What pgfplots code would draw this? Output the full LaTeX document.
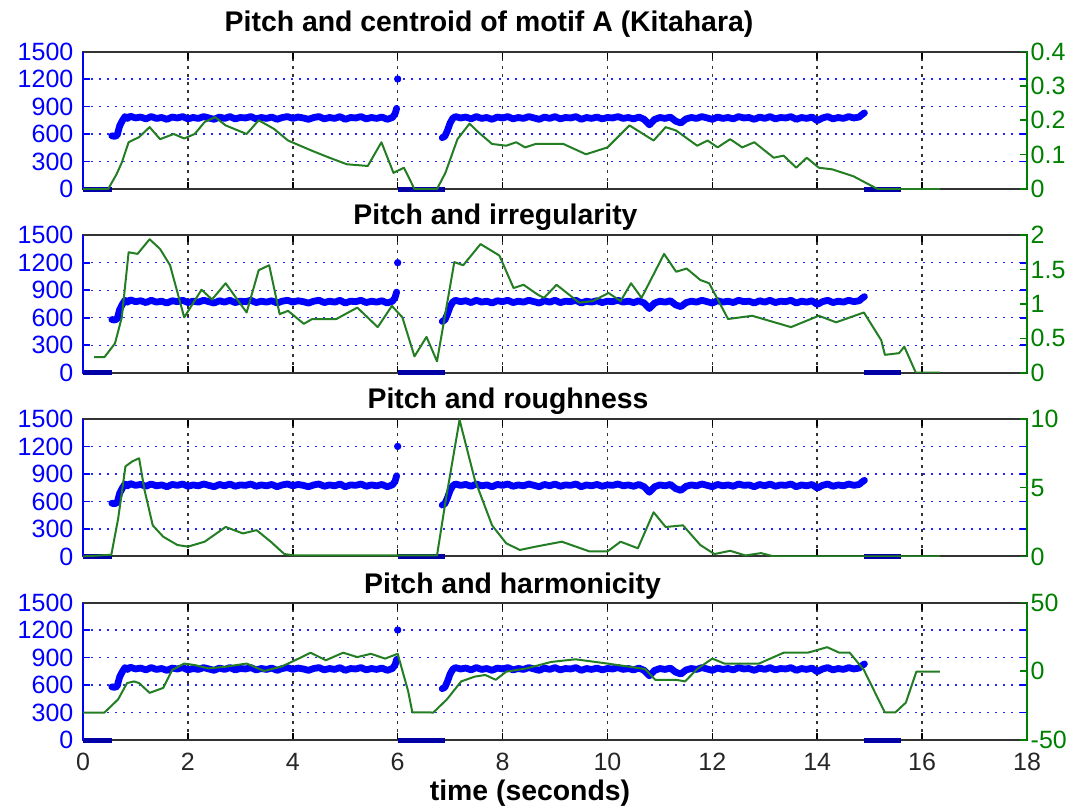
\documentclass[border=0pt]{standalone}
\usepackage{pgfplots}
\pgfplotsset{compat=1.18}
\usepackage{pgfplotstable}
\usepackage{fontspec}
\setmainfont{Liberation Sans}
\definecolor{mgreen}{RGB}{0,128,0}
\definecolor{cgreen}{RGB}{35,125,35}
\definecolor{mblue}{RGB}{0,0,255}
\newcommand\tickfont{\fontsize{12.5}{14}\selectfont}
\newcommand\titlefont{\bfseries\fontsize{14.2}{16}\selectfont}

\pgfplotstableread{
t p
0.55 580
0.60 575
0.65 585
0.70 690
0.75 745
0.80 790
0.85 770
0.90 795
1.0 775
1.1 785
1.2 765
1.3 790
1.4 770
1.5 780
1.6 760
1.7 785
1.8 775
1.9 790
2.0 765
2.1 780
2.2 770
2.3 790
2.4 775
2.5 760
2.6 785
2.7 770
2.8 790
2.9 765
3.0 780
3.1 775
3.2 790
3.3 765
3.4 780
3.5 770
3.6 785
3.7 760
3.8 780
3.9 790
4.0 770
4.1 785
4.2 775
4.3 760
4.4 780
4.5 790
4.6 765
4.7 780
4.8 770
4.9 790
5.0 760
5.1 780
5.2 775
5.3 790
5.4 765
5.5 780
5.6 770
5.7 785
5.8 760
5.9 780
5.95 820
5.98 880
nan nan
6.85 560
6.90 575
6.95 640
7.00 720
7.05 770
7.1 790
7.2 775
7.3 785
7.4 765
7.5 790
7.6 770
7.7 780
7.8 760
7.9 785
8.0 775
8.1 790
8.2 765
8.3 780
8.4 770
8.5 790
8.6 775
8.7 760
8.8 785
8.9 770
9.0 790
9.1 765
9.2 780
9.3 775
9.4 790
9.5 760
9.6 780
9.7 770
9.8 785
9.9 765
10.0 780
10.1 775
10.2 790
10.3 770
10.4 780
10.5 765
10.6 785
10.7 760
10.8 700
10.9 760
11.0 780
11.1 770
11.2 785
11.3 740
11.4 720
11.5 765
11.6 780
11.7 770
11.8 790
11.9 775
12.0 760
12.1 785
12.2 770
12.3 780
12.4 765
12.5 790
12.6 775
12.7 780
12.8 760
12.9 785
13.0 770
13.1 790
13.2 765
13.3 780
13.4 775
13.5 790
13.6 760
13.7 780
13.8 770
13.9 785
14.0 745
14.1 775
14.2 790
14.3 765
14.4 780
14.5 770
14.6 790
14.7 775
14.8 785
14.85 810
14.9 830
}\pitch

\pgfplotstableread{
t p
0 0
0.55 0
nan nan
6.0 0
6.9 0
nan nan
14.9 0
15.6 0
}\pitchzero

\pgfplotstableread{
t v
0 0
0.48 0
0.64 0.043
0.74 0.077
0.87 0.136
1.07 0.151
1.27 0.180
1.47 0.145
1.73 0.160
1.93 0.147
2.13 0.160
2.32 0.195
2.52 0.209
2.72 0.185
3.12 0.160
3.35 0.200
3.64 0.175
3.91 0.141
4.37 0.111
4.70 0.091
5.03 0.072
5.43 0.067
5.69 0.136
5.92 0.047
6.12 0.062
6.32 0
6.75 0
6.91 0.047
7.14 0.145
7.37 0.190
7.54 0.165
7.80 0.131
8.07 0.126
8.26 0.136
8.43 0.121
8.63 0.131
9.16 0.131
9.59 0.101
10.00 0.121
10.42 0.185
10.88 0.141
11.11 0.180
11.31 0.170
11.71 0.126
11.91 0.141
12.10 0.121
12.34 0.145
12.57 0.121
12.80 0.136
13.17 0.091
13.36 0.097
13.60 0.062
13.80 0.091
14.03 0.062
14.29 0.057
14.69 0.037
15.15 0
16.34 0
}\centroid

\pgfplotstableread{
t v
0.21 0.227
0.41 0.227
0.61 0.427
0.74 0.805
0.87 1.752
1.04 1.728
1.27 1.941
1.47 1.799
1.66 1.563
1.93 0.805
2.26 1.207
2.46 1.065
2.72 1.301
3.12 0.876
3.35 1.491
3.55 1.563
3.75 0.852
3.91 0.900
4.21 0.711
4.37 0.781
4.83 0.781
5.23 0.947
5.62 0.663
5.89 0.971
6.09 0.805
6.32 0.237
6.55 0.521
6.75 0.165
7.08 1.609
7.25 1.563
7.58 1.871
7.94 1.704
8.21 1.231
8.40 1.279
8.67 1.136
8.79 1.089
9.03 1.279
9.46 1.019
9.72 1.041
10.02 1.160
10.25 1.041
10.45 1.301
10.65 1.089
11.08 1.728
11.31 1.468
11.51 1.515
11.77 1.349
11.94 1.301
12.30 0.781
12.76 0.828
13.50 0.663
14.03 0.828
14.36 0.733
14.89 0.876
15.22 0.473
15.29 0.260
15.56 0.284
15.66 0.379
15.88 0
16.34 0
}\irreg

\pgfplotstableread{
t v
0 0
0.54 0.12
0.67 2.74
0.81 6.55
0.94 6.91
1.07 7.14
1.17 4.88
1.33 2.26
1.53 1.43
1.80 0.83
2.00 0.71
2.32 1.07
2.72 2.14
3.05 1.67
3.31 1.91
3.58 1.07
3.84 0.17
4.04 0.07
6.00 0.07
6.75 0.07
6.91 3.93
7.18 9.93
7.47 5.59
7.80 2.26
8.07 0.95
8.33 0.47
8.63 0.71
9.13 1.07
9.66 0.36
10.00 0.36
10.25 1.07
10.58 0.59
10.88 3.21
11.11 2.14
11.44 2.26
11.77 0.83
12.04 0.17
12.34 0.41
12.63 0.07
12.93 0.24
13.17 0
16.34 0
}\rough

\pgfplotstableread{
t v
0 -30
0.41 -30
0.67 -20.4
0.84 -8.6
0.97 -7.4
1.07 -8.6
1.27 -15.7
1.53 -12.1
1.70 0.9
1.93 5.6
2.13 4.5
2.39 2.1
2.72 3.3
3.12 5.6
3.45 0.2
3.78 3.3
4.11 9.2
4.34 13.5
4.63 8.0
4.96 13.5
5.23 10.3
5.49 12.7
5.76 9.2
6.00 12.7
6.20 -14.5
6.28 -29.9
6.68 -30
6.94 -20.4
7.21 -7.4
7.47 -3.9
7.67 -2.7
7.87 -6.2
8.07 -0.3
8.46 2.1
8.93 6.8
9.39 8.7
10.00 5.6
10.72 1.6
10.91 -6.2
11.31 -6.2
11.48 -7.4
11.71 1.6
12.00 9.2
12.23 5.6
12.89 5.6
13.36 13.5
13.82 13.5
14.19 17.5
14.42 13.5
14.62 13.5
14.89 0.9
15.15 -19.2
15.29 -29.9
15.49 -29.9
15.69 -22.8
15.89 -0.3
16.34 -0.3
}\harm

\pgfplotsset{
  base/.style={scale only axis, width=472pt, height=68.75pt, xmin=0, xmax=18,
    anchor=south west, tick align=inside, major tick length=3.5pt,
    /pgf/number format/assume math mode=true},
  leftax/.style={base, ymin=0, ymax=1500, clip=false,
    xtick={0,2,4,6,8,10,12,14,16,18}, xticklabels={},
    ytick={0,300,600,900,1200,1500}, yticklabels={0,300,600,900,1200,1500},
    xmajorgrids=true, ymajorgrids=true,
    major x grid style={black!80, line width=0.8pt, dash pattern=on 1.5pt off 2.5pt},
    major y grid style={mblue!85, line width=0.6pt, dash pattern=on 1pt off 3pt},
    axis line style={black!80, line width=1pt},
    xtick style={black, line width=0.8pt},
    ytick style={mblue, line width=0.8pt},
    yticklabel style={mblue, font=\tickfont, xshift=-1.3pt},
    xticklabel style={black!85, font=\tickfont, yshift=-3pt},
    title style={font=\titlefont, at={(0.5,1)}, anchor=base},
  },
  blueleft/.style={base, axis x line=none, axis y line*=left, ymin=0, ymax=1500,
    ytick=\empty, y axis line style={mblue, line width=1pt}},
  rightax/.style={base, axis x line=none, axis y line*=right,
    y axis line style={mgreen, line width=1pt},
    ytick style={mgreen, line width=0.8pt},
    yticklabel style={mgreen, font=\tickfont, xshift=-1.7pt},
  },
  gline/.style={cgreen, line width=1pt, line join=round},
}
\newcommand\pitchplots{%
  \addplot[mblue, line width=3.4pt, line join=round, line cap=round, unbounded coords=jump] table {\pitch};
  \addplot[blue!65!black, line width=2.5pt, unbounded coords=jump] table {\pitchzero};
  \addplot[only marks, mark=*, mark size=1.6pt, mblue] coordinates {(6,1200)};
}

\begin{document}
\begin{tikzpicture}
\useasboundingbox (0,0) rectangle (537pt,-404pt);
% subplot 1
\begin{axis}[leftax, at={(41.5pt,-94.5pt)},
  title={Pitch and centroid of motif A (Kitahara)}, title style={yshift=4pt, xshift=-33pt}]
\pitchplots
\end{axis}
\begin{axis}[blueleft, at={(41.5pt,-94.5pt)}]
\addplot[draw=none] coordinates {(0,0)};
\end{axis}
\begin{axis}[rightax, at={(41.5pt,-94.5pt)}, ymin=0, ymax=0.4,
  ytick={0,0.1,0.2,0.3,0.4}, yticklabels={0,0.1,0.2,0.3,0.4}]
\addplot[gline] table {\centroid};
\end{axis}
% subplot 2
\begin{axis}[leftax, at={(41.5pt,-186.35pt)},
  title={Pitch and irregularity}, title style={yshift=-0.5pt, xshift=-29.75pt}]
\pitchplots
\end{axis}
\begin{axis}[blueleft, at={(41.5pt,-186.35pt)}]
\addplot[draw=none] coordinates {(0,0)};
\end{axis}
\begin{axis}[rightax, at={(41.5pt,-186.35pt)}, ymin=0, ymax=2,
  ytick={0,0.5,1,1.5,2}, yticklabels={0,0.5,1,1.5,2}]
\addplot[gline] table {\irreg};
\end{axis}
% subplot 3
\begin{axis}[leftax, at={(41.5pt,-278.2pt)},
  title={Pitch and roughness}, title style={yshift=-1pt, xshift=-23.5pt}]
\pitchplots
\end{axis}
\begin{axis}[blueleft, at={(41.5pt,-278.2pt)}]
\addplot[draw=none] coordinates {(0,0)};
\end{axis}
\begin{axis}[rightax, at={(41.5pt,-278.2pt)}, ymin=0, ymax=10,
  ytick={0,5,10}, yticklabels={0,5,10}]
\addplot[gline] table {\rough};
\end{axis}
% subplot 4
\begin{axis}[leftax, at={(41.5pt,-370pt)},
  title={Pitch and harmonicity}, title style={yshift=-1.25pt, xshift=-21.25pt},
  xticklabels={0,2,4,6,8,10,12,14,16,18},
  xlabel={time (seconds)},
  xlabel style={font=\titlefont, at={(axis description cs:0.5,0)}, anchor=base, yshift=-30pt, xshift=-12.5pt}]
\pitchplots
\end{axis}
\begin{axis}[blueleft, at={(41.5pt,-370pt)}]
\addplot[draw=none] coordinates {(0,0)};
\end{axis}
\begin{axis}[rightax, at={(41.5pt,-370pt)}, ymin=-50, ymax=50,
  ytick={-50,0,50}, yticklabels={-50,0,50}]
\addplot[gline] table {\harm};
\end{axis}
\end{tikzpicture}
\end{document}
